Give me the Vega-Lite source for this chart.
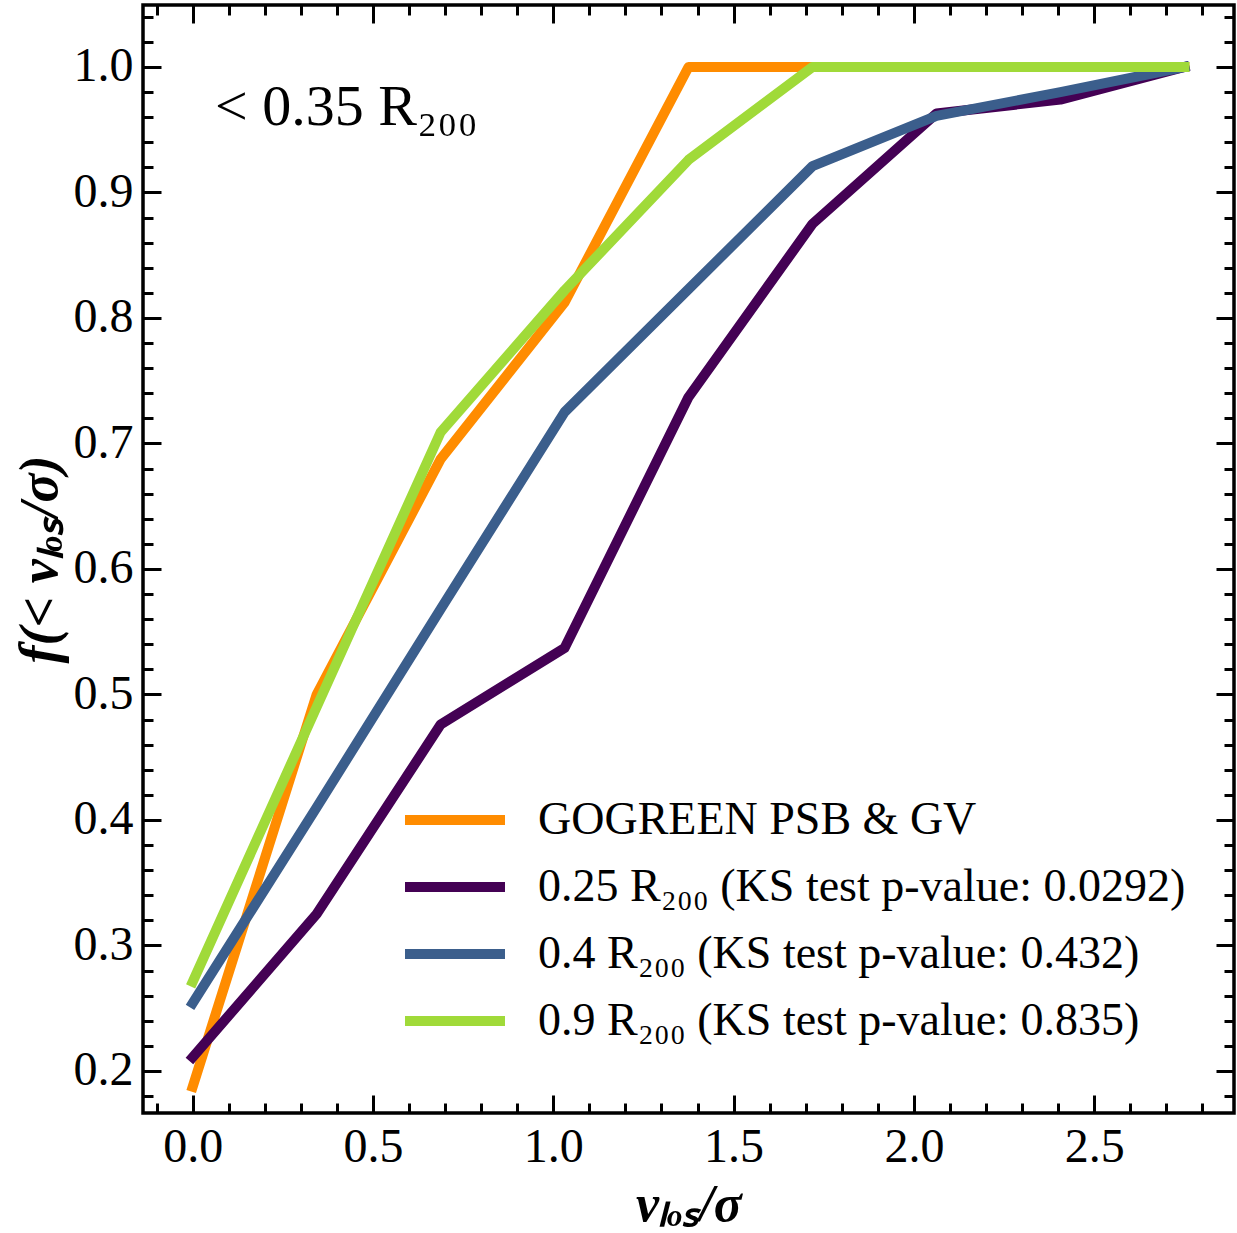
{
  "$schema": "https://vega.github.io/schema/vega-lite/v6.json",
  "width": 1091,
  "height": 1108,
  "autosize": {"type": "none"},
  "padding": {"left": 143, "top": 5, "right": 3, "bottom": 120},
  "background": "white",
  "config": {
    "view": {"stroke": "black", "strokeWidth": 3.5},
    "font": "Liberation Serif",
    "axis": {"domain": false, "grid": false, "tickColor": "black", "labelColor": "black", "titleColor": "black"}
  },
  "datasets": {
    "curves": [
      {"series": "GOGREEN PSB & GV", "x": 0.0, "y": 0.1875},
      {"series": "GOGREEN PSB & GV", "x": 0.34375, "y": 0.5},
      {"series": "GOGREEN PSB & GV", "x": 0.6875, "y": 0.6875},
      {"series": "GOGREEN PSB & GV", "x": 1.03125, "y": 0.8125},
      {"series": "GOGREEN PSB & GV", "x": 1.375, "y": 1.0},
      {"series": "GOGREEN PSB & GV", "x": 1.71875, "y": 1.0},
      {"series": "GOGREEN PSB & GV", "x": 2.0625, "y": 1.0},
      {"series": "GOGREEN PSB & GV", "x": 2.40625, "y": 1.0},
      {"series": "GOGREEN PSB & GV", "x": 2.75, "y": 1.0},
      {"series": "0.25 R₂₀₀ (KS test p-value: 0.0292)", "x": 0.0, "y": 0.211},
      {"series": "0.25 R₂₀₀ (KS test p-value: 0.0292)", "x": 0.34375, "y": 0.325},
      {"series": "0.25 R₂₀₀ (KS test p-value: 0.0292)", "x": 0.6875, "y": 0.476},
      {"series": "0.25 R₂₀₀ (KS test p-value: 0.0292)", "x": 1.03125, "y": 0.537},
      {"series": "0.25 R₂₀₀ (KS test p-value: 0.0292)", "x": 1.375, "y": 0.737},
      {"series": "0.25 R₂₀₀ (KS test p-value: 0.0292)", "x": 1.71875, "y": 0.875},
      {"series": "0.25 R₂₀₀ (KS test p-value: 0.0292)", "x": 2.0625, "y": 0.963},
      {"series": "0.25 R₂₀₀ (KS test p-value: 0.0292)", "x": 2.40625, "y": 0.974},
      {"series": "0.25 R₂₀₀ (KS test p-value: 0.0292)", "x": 2.75, "y": 1.0},
      {"series": "0.4 R₂₀₀ (KS test p-value: 0.432)", "x": 0.0, "y": 0.254},
      {"series": "0.4 R₂₀₀ (KS test p-value: 0.432)", "x": 0.34375, "y": 0.41},
      {"series": "0.4 R₂₀₀ (KS test p-value: 0.432)", "x": 0.6875, "y": 0.568},
      {"series": "0.4 R₂₀₀ (KS test p-value: 0.432)", "x": 1.03125, "y": 0.725},
      {"series": "0.4 R₂₀₀ (KS test p-value: 0.432)", "x": 1.375, "y": 0.823},
      {"series": "0.4 R₂₀₀ (KS test p-value: 0.432)", "x": 1.71875, "y": 0.921},
      {"series": "0.4 R₂₀₀ (KS test p-value: 0.432)", "x": 2.0625, "y": 0.961},
      {"series": "0.4 R₂₀₀ (KS test p-value: 0.432)", "x": 2.40625, "y": 0.98},
      {"series": "0.4 R₂₀₀ (KS test p-value: 0.432)", "x": 2.75, "y": 1.0},
      {"series": "0.9 R₂₀₀ (KS test p-value: 0.835)", "x": 0.0, "y": 0.271},
      {"series": "0.9 R₂₀₀ (KS test p-value: 0.835)", "x": 0.34375, "y": 0.49},
      {"series": "0.9 R₂₀₀ (KS test p-value: 0.835)", "x": 0.6875, "y": 0.709},
      {"series": "0.9 R₂₀₀ (KS test p-value: 0.835)", "x": 1.03125, "y": 0.822},
      {"series": "0.9 R₂₀₀ (KS test p-value: 0.835)", "x": 1.375, "y": 0.926},
      {"series": "0.9 R₂₀₀ (KS test p-value: 0.835)", "x": 1.71875, "y": 1.0},
      {"series": "0.9 R₂₀₀ (KS test p-value: 0.835)", "x": 2.0625, "y": 1.0},
      {"series": "0.9 R₂₀₀ (KS test p-value: 0.835)", "x": 2.40625, "y": 1.0},
      {"series": "0.9 R₂₀₀ (KS test p-value: 0.835)", "x": 2.75, "y": 1.0}
    ],
    "note": [{"x": 0.062, "y": 0.967, "label": "< 0.35 R₂₀₀"}]
  },
  "resolve": {"axis": {"x": "independent", "y": "independent"}},
  "layer": [
    {
      "data": {"name": "curves"},
      "mark": {"type": "line", "strokeWidth": 10, "strokeCap": "square", "strokeJoin": "round"},
      "encoding": {
        "x": {"field": "x", "type": "quantitative",
              "scale": {"domain": [-0.1378, 2.8876], "nice": false, "zero": false},
              "axis": {"orient": "bottom", "values": [0, 0.5, 1, 1.5, 2, 2.5], "format": ".1f",
                       "tickSize": -18, "tickWidth": 3, "labelPadding": 28, "labelFontSize": 48,
                       "title": "vₗₒₛ/σ", "titleFont": "Liberation Serif", "titleFontSize": 52,
                       "titleFontWeight": "bold", "titleFontStyle": "italic", "titlePadding": 8}},
        "y": {"field": "y", "type": "quantitative",
              "scale": {"domain": [0.1665, 1.0494], "nice": false, "zero": false},
              "axis": {"orient": "left", "values": [0.2, 0.3, 0.4, 0.5, 0.6, 0.7, 0.8, 0.9, 1.0], "format": ".1f",
                       "tickSize": -18, "tickWidth": 3, "labelPadding": 28, "labelFontSize": 48,
                       "title": "f(< vₗₒₛ/σ)", "titleFont": "Liberation Serif", "titleFontSize": 54,
                       "titleFontWeight": "bold", "titleFontStyle": "italic", "titlePadding": 6}},
        "color": {"field": "series", "type": "nominal",
                  "scale": {"domain": ["GOGREEN PSB & GV", "0.25 R₂₀₀ (KS test p-value: 0.0292)", "0.4 R₂₀₀ (KS test p-value: 0.432)", "0.9 R₂₀₀ (KS test p-value: 0.835)"],
                            "range": ["#ff8c00", "#440154", "#3b5e8c", "#a0da39"]},
                  "legend": {"orient": "none", "legendX": 282, "legendY": 785, "title": null,
                             "symbolType": "M-2,0H2", "symbolSize": 2500, "symbolStrokeWidth": 10,
                             "labelFontSize": 46, "labelFont": "Liberation Serif", "labelColor": "black",
                             "labelOffset": 53, "rowPadding": 14, "labelLimit": 0}}
      }
    },
    {
      "data": {"name": "curves"},
      "mark": {"type": "line", "opacity": 0},
      "encoding": {
        "x": {"field": "x", "type": "quantitative",
              "scale": {"domain": [-0.1378, 2.8876], "nice": false, "zero": false},
              "axis": {"orient": "bottom", "values": [-0.1, 0.1, 0.2, 0.3, 0.4, 0.6, 0.7, 0.8, 0.9, 1.1, 1.2, 1.3, 1.4, 1.6, 1.7, 1.8, 1.9, 2.1, 2.2, 2.3, 2.4, 2.6, 2.7, 2.8],
                       "tickSize": -10, "tickWidth": 3, "labels": false, "title": null}},
        "y": {"field": "y", "type": "quantitative",
              "scale": {"domain": [0.1665, 1.0494], "nice": false, "zero": false},
              "axis": {"orient": "left", "values": [0.18, 0.22, 0.24, 0.26, 0.28, 0.32, 0.34, 0.36, 0.38, 0.42, 0.44, 0.46, 0.48, 0.52, 0.54, 0.56, 0.58, 0.62, 0.64, 0.66, 0.68, 0.72, 0.74, 0.76, 0.78, 0.82, 0.84, 0.86, 0.88, 0.92, 0.94, 0.96, 0.98, 1.02, 1.04],
                       "tickSize": -10, "tickWidth": 3, "labels": false, "title": null}},
        "detail": {"field": "series"}
      }
    },
    {
      "data": {"name": "curves"},
      "mark": {"type": "line", "opacity": 0},
      "encoding": {
        "x": {"field": "x", "type": "quantitative",
              "scale": {"domain": [-0.1378, 2.8876], "nice": false, "zero": false},
              "axis": {"orient": "top", "values": [0, 0.5, 1, 1.5, 2, 2.5],
                       "tickSize": -18, "tickWidth": 3, "labels": false, "title": null}},
        "y": {"field": "y", "type": "quantitative",
              "scale": {"domain": [0.1665, 1.0494], "nice": false, "zero": false},
              "axis": {"orient": "right", "values": [0.2, 0.3, 0.4, 0.5, 0.6, 0.7, 0.8, 0.9, 1.0],
                       "tickSize": -18, "tickWidth": 3, "labels": false, "title": null}},
        "detail": {"field": "series"}
      }
    },
    {
      "data": {"name": "curves"},
      "mark": {"type": "line", "opacity": 0},
      "encoding": {
        "x": {"field": "x", "type": "quantitative",
              "scale": {"domain": [-0.1378, 2.8876], "nice": false, "zero": false},
              "axis": {"orient": "top", "values": [-0.1, 0.1, 0.2, 0.3, 0.4, 0.6, 0.7, 0.8, 0.9, 1.1, 1.2, 1.3, 1.4, 1.6, 1.7, 1.8, 1.9, 2.1, 2.2, 2.3, 2.4, 2.6, 2.7, 2.8],
                       "tickSize": -10, "tickWidth": 3, "labels": false, "title": null}},
        "y": {"field": "y", "type": "quantitative",
              "scale": {"domain": [0.1665, 1.0494], "nice": false, "zero": false},
              "axis": {"orient": "right", "values": [0.18, 0.22, 0.24, 0.26, 0.28, 0.32, 0.34, 0.36, 0.38, 0.42, 0.44, 0.46, 0.48, 0.52, 0.54, 0.56, 0.58, 0.62, 0.64, 0.66, 0.68, 0.72, 0.74, 0.76, 0.78, 0.82, 0.84, 0.86, 0.88, 0.92, 0.94, 0.96, 0.98, 1.02, 1.04],
                       "tickSize": -10, "tickWidth": 3, "labels": false, "title": null}},
        "detail": {"field": "series"}
      }
    },
    {
      "data": {"name": "note"},
      "mark": {"type": "text", "align": "left", "baseline": "middle", "fontSize": 58, "font": "Liberation Serif", "color": "black"},
      "encoding": {
        "x": {"field": "x", "type": "quantitative", "scale": {"domain": [-0.1378, 2.8876], "nice": false, "zero": false}, "axis": null},
        "y": {"field": "y", "type": "quantitative", "scale": {"domain": [0.1665, 1.0494], "nice": false, "zero": false}, "axis": null},
        "text": {"field": "label"}
      }
    }
  ]
}
